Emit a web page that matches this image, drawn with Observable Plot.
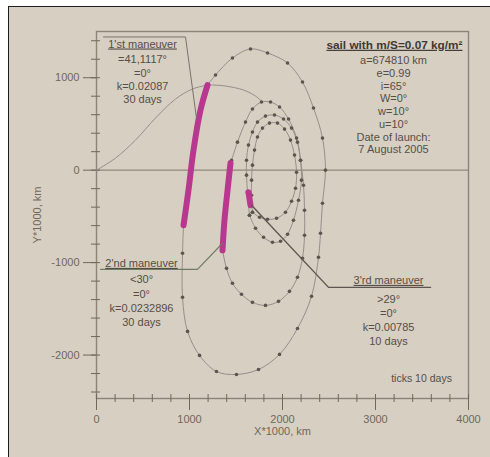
<!DOCTYPE html>
<html><head><meta charset="utf-8">
<script src="https://cdn.jsdelivr.net/npm/d3@7"></script>
<script src="https://cdn.jsdelivr.net/npm/@observablehq/plot@0.6"></script>
<style>
body{margin:0;background:#fff;width:490px;height:457px;overflow:hidden;position:relative}
#bg{position:absolute;left:8px;top:6px;width:482px;height:451px;background:#d8cfc3;border-left:1.5px solid #1e1e1e;border-top:1.5px solid #1e1e1e;box-sizing:border-box}
#chart{position:absolute;left:0;top:0}
</style></head><body><div id="bg"></div><div id="chart"></div>
<script>
// axis ticks
const xTicks = [0, 1000, 2000, 3000, 4000];
const yTicks = [-2000, -1000, 0, 1000];
const minorX = d3.range(0, 4001, 200);
const minorY = d3.range(-2400, 1401, 200);

// launch transfer (thin, no ticks)
const launchX = [0, 204, 419, 634, 849, 1032, 1194];
const launchY = [0, 130, 325, 563, 769, 878, 921];
const driftX = [1194, 1258, 1387, 1581, 1710, 1785];
const driftY = [921, 921, 910, 867, 802, 737];

// maneuvers
const man1X = [1194, 1118, 1043, 989, 936];
const man1Y = [921, 650, 217, -217, -596];
const man2X = [1441, 1409, 1376, 1355];
const man2Y = [76, -217, -542, -867];
const man3X = [1634, 1656];
const man3Y = [-238, -379];

// coasting loops (ticks every 10 days)
const loop1X = [936, 925, 925, 979, 1108, 1290, 1505, 1742, 1968, 2161, 2312, 2387, 2409, 2430, 2462, 2430, 2333, 2215, 2054, 1839, 1656, 1462, 1280, 1194];
const loop1Y = [-596, -899, -1376, -1744, -2004, -2178, -2210, -2156, -1993, -1712, -1365, -943, -683, -358, 0, 347, 672, 953, 1159, 1268, 1311, 1213, 1029, 921];
const loop2X = [1355, 1398, 1462, 1559, 1677, 1817, 1957, 2075, 2161, 2215, 2237, 2237, 2226, 2194, 2151, 2065, 1968, 1871, 1774, 1677, 1602, 1516, 1452, 1441];
const loop2Y = [-867, -1062, -1224, -1343, -1430, -1463, -1419, -1311, -1159, -953, -704, -433, -163, 108, 347, 553, 683, 737, 737, 661, 520, 303, 108, 76];
const loop3X = [1645, 1710, 1796, 1893, 1979, 2054, 2118, 2172, 2204, 2194, 2161, 2097, 2011, 1914, 1817, 1731, 1677, 1634, 1613, 1613, 1624, 1645];
const loop3Y = [-488, -628, -726, -780, -769, -693, -542, -325, -108, 108, 303, 455, 553, 596, 585, 520, 412, 271, 108, -54, -238, -488];
const loop4X = [1677, 1753, 1839, 1936, 2032, 2097, 2140, 2151, 2129, 2086, 2022, 1946, 1860, 1785, 1731, 1699, 1677, 1667, 1667, 1677];
const loop4Y = [-455, -509, -531, -520, -455, -336, -195, -22, 163, 325, 444, 509, 509, 455, 358, 217, 54, -108, -271, -455];

// leader lines
const lead1X = [75, 957, 1075];
const lead1Y = [1441, 1441, 563];
const lead2X = [43, 1086, 1355];
const lead2Y = [-1073, -1073, -791];
const lead3X = [1667, 2495, 3592];
const lead3Y = [-379, -1268, -1268];

// texts
const title1 = "1'st maneuver";
const note1 = ["=41,1117°", "=0°", "k=0.02087", "30 days"];
const title2 = "2'nd maneuver";
const note2 = ["<30°", "=0°", "k=0.0232896", "30 days"];
const title3 = "3'rd maneuver";
const note3 = [">29°", "=0°", "k=0.00785", "10 days"];
const titleSail = "sail with m/S=0.07 kg/m²";
const noteSail = ["a=674810 km", "e=0.99", "i=65°", "W=0°", "w=10°", "u=10°", "Date of launch:", "7 August 2005"];
const ticksNote = "ticks 10 days";

const pts = (xs, ys) => xs.map((x, i) => ({x, y: ys[i]}));
const fmt = d => String(d);
const lineC = "#958f89", dotC = "#5b554e", pink = "#b8388f", txt = "#554e46";
const loops = [pts(loop1X, loop1Y), pts(loop2X, loop2Y), pts(loop3X, loop3Y), pts(loop4X, loop4Y)];

const plot = Plot.plot({
  width: 490, height: 457,
  marginLeft: 96, marginRight: 22, marginTop: 31, marginBottom: 59,
  style: {background: "transparent", fontFamily: "'Liberation Sans', Arial, sans-serif", fontSize: "11px", color: "#706859"},
  x: {domain: [0, 4000], label: null},
  y: {domain: [-2470, 1500], label: null},
  marks: [
    Plot.ruleY([0], {stroke: "#8f877c", strokeWidth: 1.2}),
    Plot.frame({stroke: "#8d8477", strokeWidth: 1.4}),
    Plot.axisX({ticks: minorX, tickSize: 4, text: null, label: null}),
    Plot.axisX({ticks: minorX, tickSize: 4, text: null, label: null, dy: -4}),
    Plot.axisX({ticks: xTicks, tickSize: 12, tickPadding: 5, tickFormat: fmt, label: "X*1000, km", labelAnchor: "center", labelOffset: 36, labelArrow: "none"}),
    Plot.axisY({ticks: minorY, tickSize: 5, text: null, label: null}),
    Plot.axisY({ticks: minorY, tickSize: 4, text: null, label: null, dx: 4}),
    Plot.axisY({ticks: yTicks, tickSize: 13, tickPadding: 4, tickFormat: fmt, label: "Y*1000, km", labelAnchor: "center", labelOffset: 63, labelArrow: "none"}),
    Plot.line(pts(launchX, launchY), {x: "x", y: "y", curve: "catmull-rom", stroke: lineC, strokeWidth: 1}),
    Plot.line(pts(driftX, driftY), {x: "x", y: "y", curve: "catmull-rom", stroke: lineC, strokeWidth: 1}),
    ...loops.map(l => Plot.line(l, {x: "x", y: "y", curve: "catmull-rom", stroke: lineC, strokeWidth: 1})),
    ...loops.map(l => Plot.dot(l, {x: "x", y: "y", r: 1.8, fill: dotC, stroke: null})),
    Plot.line(pts(man1X, man1Y), {x: "x", y: "y", curve: "catmull-rom", stroke: pink, strokeWidth: 6}),
    Plot.line(pts(man2X, man2Y), {x: "x", y: "y", curve: "catmull-rom", stroke: pink, strokeWidth: 6}),
    Plot.line(pts(man3X, man3Y), {x: "x", y: "y", stroke: pink, strokeWidth: 6}),
    Plot.line(pts(lead1X, lead1Y), {x: "x", y: "y", stroke: "#7a7269", strokeWidth: 1}),
    Plot.line(pts(lead2X, lead2Y), {x: "x", y: "y", stroke: "#6f7d64", strokeWidth: 1.2}),
    Plot.line(pts(lead3X, lead3Y), {x: "x", y: "y", stroke: "#5e574f", strokeWidth: 1.4}),
    Plot.text([title1], {x: 495, y: 1365, text: d => d, fill: txt}),
    Plot.text([note1.join("\n")], {x: 495, y: 1257, text: d => d, fill: txt, lineAnchor: "top", lineHeight: 1.2}),
    Plot.text([title2], {x: 484, y: -1008, text: d => d, fill: txt}),
    Plot.text([note2.join("\n")], {x: 484, y: -1116, text: d => d, fill: txt, lineAnchor: "top", lineHeight: 1.3}),
    Plot.text([title3], {x: 3140, y: -1192, text: d => d, fill: txt}),
    Plot.text([note3.join("\n")], {x: 3140, y: -1322, text: d => d, fill: txt, lineAnchor: "top", lineHeight: 1.3}),
    Plot.text([titleSail], {x: 3204, y: 1354, text: d => d, fill: "#3f3932", fontWeight: "bold", fontSize: 11.8}),
    Plot.text([noteSail.join("\n")], {x: 3194, y: 1246, text: d => d, fill: txt, lineAnchor: "top", lineHeight: 1.16}),
    Plot.text([ticksNote], {x: 3495, y: -2253, text: d => d, fill: txt, fontSize: 10.5})
  ]
});
document.getElementById("chart").append(plot);
const under = new Set([title1, title2, title3, titleSail]);
d3.select(plot).selectAll("text").filter(function() { return under.has(this.textContent); })
  .style("text-decoration", "underline");
</script></body></html>
